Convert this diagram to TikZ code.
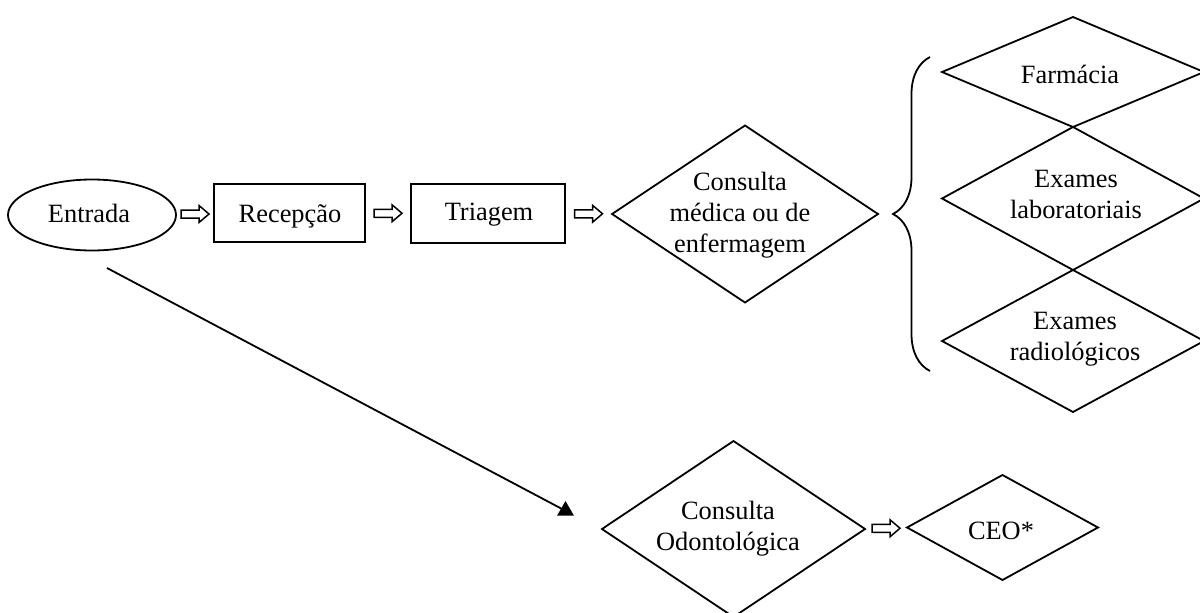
\documentclass[tikz,border=0pt]{standalone}
\usepackage{fontspec}
\setmainfont{Liberation Serif}
\usetikzlibrary{shapes.geometric,decorations.pathreplacing,calc}
\newcommand{\hollowarrow}[1]{\draw[hollow] (#1) ++(-14,-4) -- ++(18,0) -- ++(0,-4.5) -- ++(10,8.5) -- ++(-10,8.5) -- ++(0,-4.5) -- ++(-18,0) -- cycle;}
\begin{document}
\begin{tikzpicture}[x=1pt,y=-1pt,line width=1.8pt,
  font=\fontsize{26.4}{31}\selectfont,
  dia/.style 2 args={draw, diamond, inner sep=0pt, outer sep=0pt, minimum width=#1, minimum height=#2},
  rbox/.style 2 args={draw, rectangle, inner sep=0pt, outer sep=0pt, minimum width=#1, minimum height=#2},
  txt/.style={align=center, inner sep=0pt, outer sep=0pt},
  hollow/.style={draw, line width=1.5pt, fill=white, line join=miter},
  tip/.style={regular polygon, regular polygon sides=3, fill=black, inner sep=0pt, outer sep=0pt, minimum size=19.6}]
\fill[white] (0,0) rectangle (1200,613);
\useasboundingbox (0,0) rectangle (1200,613);
\clip (0,0) rectangle (1200,613);

% top row
\node[draw, ellipse, inner sep=0pt, outer sep=0pt, minimum width=168, minimum height=71] (entrada) at (92,215) {};
\node[txt] (entradaT) at (89,213) {Entrada};
\node[rbox={151}{58}] (recep) at (289.5,213) {};
\node[txt] (recepT) at (290,216) {Recepção};
\node[rbox={154}{59}] (triag) at (488,213.5) {};
\node[txt] (triagT) at (489,214.5) {Triagem};
\node[dia={266}{177}] (med) at (745,214) {};
\node[txt] (medT) at (740,215) {Consulta\\médica ou de\\enfermagem};

% right column
\node[dia={262}{110}] (farm) at (1073,72) {};
\node[txt] (farmT) at (1070,74) {Farmácia};
\node[dia={262}{143}] (lab) at (1073,198.5) {};
\node[txt] (labT) at (1076,194) {Exames\\laboratoriais};
\node[dia={262}{142}] (rad) at (1073,341) {};
\node[txt] (radT) at (1075,339) {Exames\\radiológicos};

% brace
\draw[decorate, decoration={brace, amplitude=37pt}] (930,371) -- (930,57);

% bottom row
\node[dia={263}{176}] (odo) at (733.5,529) {};
\node[txt] (odoT) at (728,529) {Consulta\\Odontológica};
\node[dia={191}{105}] (ceo) at (1002.5,527.5) {};
\node[txt] (ceoT) at (1001,531) {CEO*};

% hollow arrows
\coordinate (h1) at ($(entrada.east)!0.5!(recep.west)$);
\coordinate (h2) at ($(recep.east)!0.5!(triag.west)$);
\coordinate (h3) at ($(triag.east)!0.5!(med.west)$);
\coordinate (h4) at ($(odo.east)!0.5!(ceo.west)$);
\hollowarrow{h1}
\hollowarrow{h2}
\hollowarrow{h3}
\hollowarrow{h4}

% diagonal connector
\coordinate (d0) at (107,268);
\node[tip] (tri) at (565.5,510.8) {};
\draw (d0) -- (tri);
\end{tikzpicture}
\end{document}
